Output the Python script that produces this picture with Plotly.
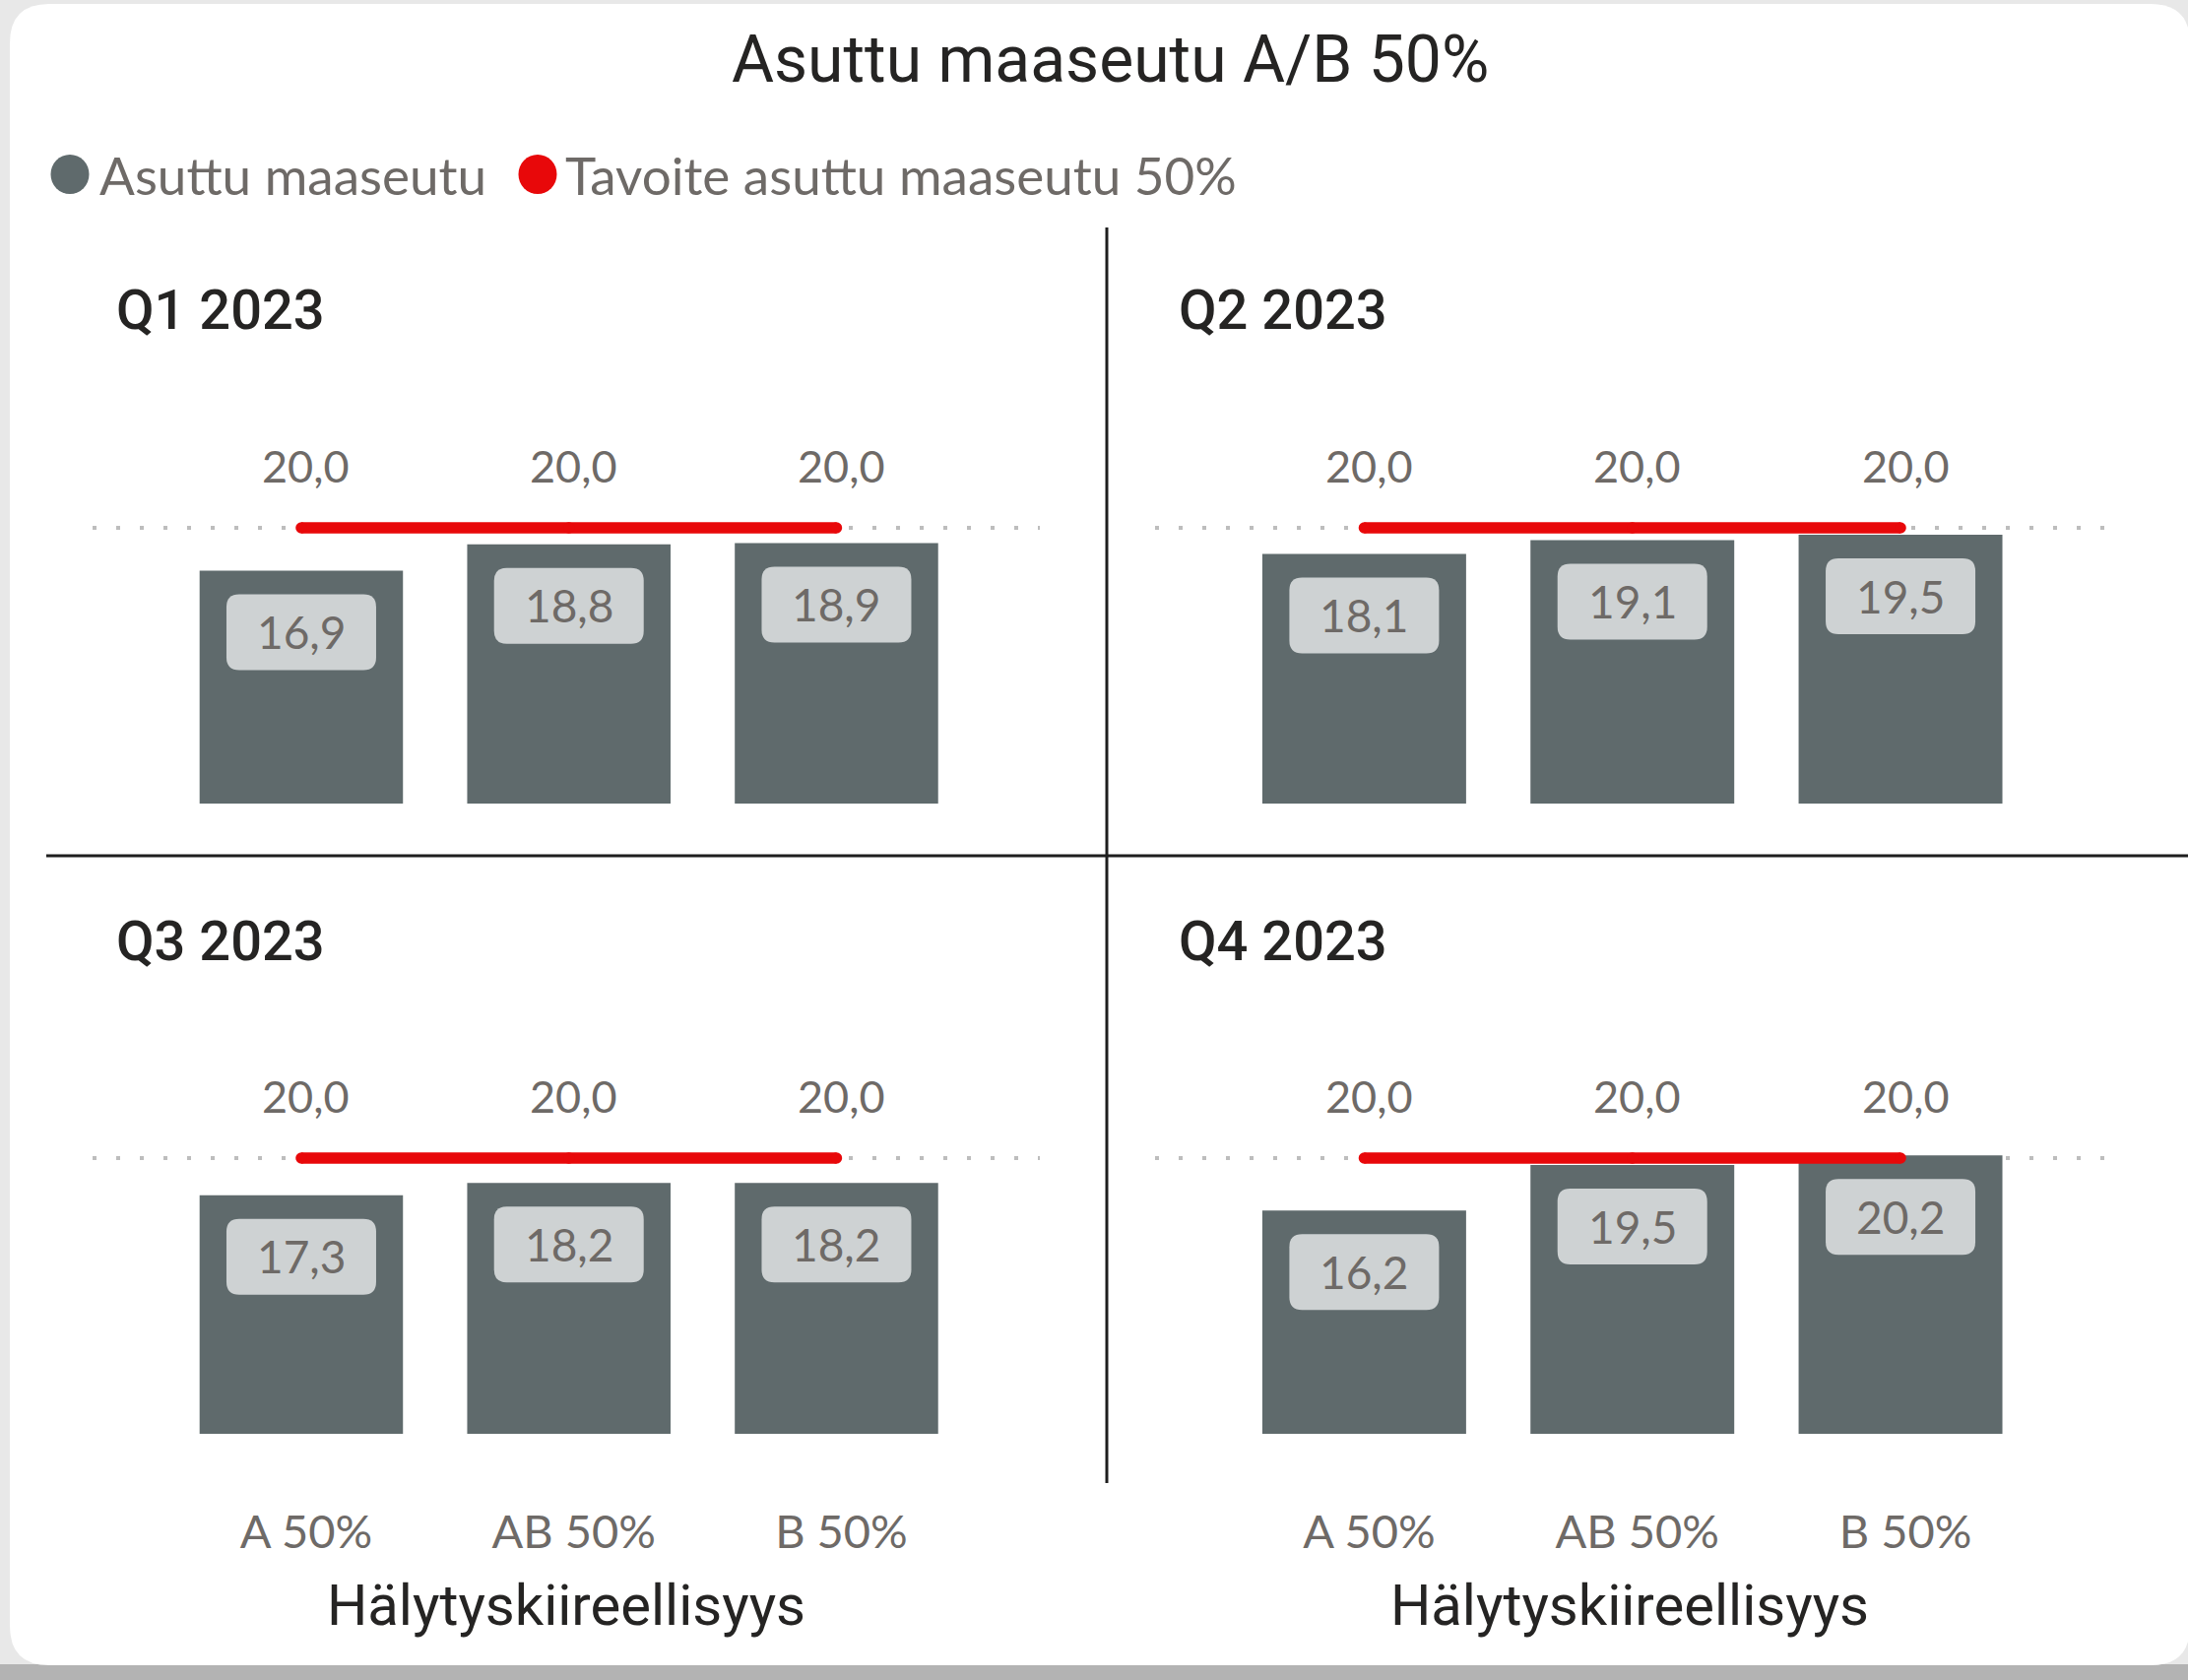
import plotly.graph_objects as go

# ---------------- data ----------------
categories = ["A 50%", "AB 50%", "B 50%"]
quarters = ["Q1 2023", "Q2 2023", "Q3 2023", "Q4 2023"]
q1_values = [16.9, 18.8, 18.9]
q2_values = [18.1, 19.1, 19.5]
q3_values = [17.3, 18.2, 18.2]
q4_values = [16.2, 19.5, 20.2]
target_values = [20.0, 20.0, 20.0]
series_name = "Asuttu maaseutu"
target_name = "Tavoite asuttu maaseutu 50%"
chart_title = "Asuttu maaseutu A/B 50%"
axis_title = "Hälytyskiireellisyys"

quarter_values = [q1_values, q2_values, q3_values, q4_values]

# ---------------- style ----------------
W, H = 2222, 1706
BAR = "#5F6A6C"
RED = "#E8080A"
BOX = "#CED2D3"
GREY_TXT = "#6E6A67"
DARK = "#252423"
SANS = "Lato, 'Open Sans', sans-serif"
DIN = "Roboto, 'DejaVu Sans', sans-serif"

def fx(p):
    return p / W

def fy(p):
    return 1 - p / H

panel_x = [(94, 1056), (1173, 2137), (94, 1056), (1173, 2137)]
panel_y = [(480, 816), (480, 816), (1120, 1456), (1120, 1456)]
title_pos = [(116, 315), (1195, 315), (116, 956), (1195, 956)]

fig = go.Figure()
shapes = []
annotations = []

# background card
card_l, card_r, card_t, card_b, rad = 10, 2224, 4, 1691, 40
shapes.append(dict(type="rect", xref="paper", yref="paper", x0=0, x1=1,
                   y0=fy(H), y1=fy(1690), fillcolor="#B3B3B3", line_width=0, layer="below"))
card_path = (
    f"M {fx(card_l+rad)},{fy(card_t)} L {fx(card_r-rad)},{fy(card_t)} "
    f"Q {fx(card_r)},{fy(card_t)} {fx(card_r)},{fy(card_t+rad)} "
    f"L {fx(card_r)},{fy(card_b-rad)} Q {fx(card_r)},{fy(card_b)} {fx(card_r-rad)},{fy(card_b)} "
    f"L {fx(card_l+rad)},{fy(card_b)} Q {fx(card_l)},{fy(card_b)} {fx(card_l)},{fy(card_b-rad)} "
    f"L {fx(card_l)},{fy(card_t+rad)} Q {fx(card_l)},{fy(card_t)} {fx(card_l+rad)},{fy(card_t)} Z"
)
shapes.append(dict(type="path", xref="paper", yref="paper", path=card_path,
                   fillcolor="white", line_width=0, layer="below"))

# divider lines
shapes.append(dict(type="line", xref="paper", yref="paper", x0=fx(1124), x1=fx(1124),
                   y0=fy(231), y1=fy(1506), line=dict(color="#1E1E1E", width=3)))
shapes.append(dict(type="line", xref="paper", yref="paper", x0=fx(47), x1=1,
                   y0=fy(869), y1=fy(869), line=dict(color="#1E1E1E", width=3)))

# rounded label box (pixel offsets relative to bar top)
bl, br, bt, bb, r = -76, 76, -24, -101, 13
box_path = (
    f"M {bl+r},{bt} L {br-r},{bt} Q {br},{bt} {br},{bt-r} L {br},{bb+r} "
    f"Q {br},{bb} {br-r},{bb} L {bl+r},{bb} Q {bl},{bb} {bl},{bb+r} "
    f"L {bl},{bt-r} Q {bl},{bt} {bl+r},{bt} Z"
)

layout_axes = {}
for i, (q, vals) in enumerate(zip(quarters, quarter_values)):
    n = i + 1
    xa = "x" if n == 1 else f"x{n}"
    ya = "y" if n == 1 else f"y{n}"
    fig.add_trace(go.Bar(x=categories, y=vals, name=series_name, marker_color=BAR,
                         marker_line_width=0, xaxis=xa, yaxis=ya, showlegend=False,
                         hoverinfo="skip"))
    fig.add_trace(go.Scatter(x=categories, y=target_values, name=target_name,
                             mode="lines+markers", line=dict(color=RED, width=11.5),
                             marker=dict(color=RED, size=11.5, line_width=0),
                             xaxis=xa, yaxis=ya, showlegend=False, hoverinfo="skip",
                             cliponaxis=False))
    bottom = n >= 3
    layout_axes[f"xaxis{'' if n == 1 else n}"] = dict(
        domain=[fx(panel_x[i][0]), fx(panel_x[i][1])], anchor=ya,
        type="category", range=[-0.78, 2.76], showgrid=False, zeroline=False,
        showline=False, ticks="", showticklabels=bottom,
        tickfont=dict(family=SANS, size=47, color=GREY_TXT, weight=400),
        ticklabelstandoff=68, ticklabelshift=5, fixedrange=True,
        title=dict(text=axis_title if bottom else "", standoff=28,
                   font=dict(family=DIN, size=58, color=DARK)),
    )
    layout_axes[f"yaxis{'' if n == 1 else n}"] = dict(
        domain=[fy(panel_y[i][1]), fy(panel_y[i][0])], anchor=xa,
        range=[0, 24], tickvals=[0, 20], showticklabels=False, showgrid=True,
        gridcolor="#BDBDBD", gridwidth=4, griddash="4px,20px", zeroline=False,
        showline=False, ticks="", fixedrange=True,
    )
    # quarter title
    annotations.append(dict(xref="paper", yref="paper", x=fx(title_pos[i][0]),
                            y=fy(title_pos[i][1]), xanchor="left", yanchor="middle",
                            text=q, showarrow=False,
                            font=dict(family=DIN, size=56, color=DARK, weight=500)))
    for c, v, t in zip(categories, vals, target_values):
        # target labels
        annotations.append(dict(xref=xa, yref=ya, x=c, y=t, yshift=63, xshift=5,
                                text=f"{t:.1f}".replace(".", ","),
                                showarrow=False, xanchor="center", yanchor="middle",
                                font=dict(family=SANS, size=45, color=GREY_TXT, weight=400)))
        # value label box
        shapes.append(dict(type="path", xref=xa, yref=ya, xsizemode="pixel", ysizemode="pixel",
                           xanchor=c, yanchor=v, path=box_path, fillcolor=BOX, line_width=0,
                           layer="above"))
        annotations.append(dict(xref=xa, yref=ya, x=c, y=v, yshift=-62,
                                text=f"{v:.1f}".replace(".", ","),
                                showarrow=False, xanchor="center", yanchor="middle",
                                font=dict(family=SANS, size=46, color=GREY_TXT, weight=400)))

# title
annotations.append(dict(xref="paper", yref="paper", x=fx(1127), y=fy(60), xanchor="center",
                        yanchor="middle", text=chart_title, showarrow=False,
                        font=dict(family=DIN, size=66, color=DARK)))
# legend
leg_items = [(series_name, BAR, 71, 99), (target_name, RED, 546, 572)]
for name, col, cx, tx in leg_items:
    shapes.append(dict(type="circle", xref="paper", yref="paper",
                       x0=fx(cx - 19.5), x1=fx(cx + 19.5), y0=fy(177 + 20), y1=fy(177 - 20),
                       fillcolor=col, line_width=0))
    annotations.append(dict(xref="paper", yref="paper", x=fx(tx), y=fy(177), xanchor="left",
                            yanchor="middle", text=name, showarrow=False,
                            font=dict(family=SANS, size=53, color=GREY_TXT, weight=400)))

fig.update_layout(
    width=W, height=H, margin=dict(l=0, r=0, t=0, b=0), autosize=False,
    paper_bgcolor="#E8E8E8", plot_bgcolor="rgba(0,0,0,0)",
    bargap=0.24, showlegend=False, shapes=shapes, annotations=annotations,
    **layout_axes,
)

fig.write_html("out.html", config={"displayModeBar": False},
               post_script="document.body.style.margin='0px';document.body.style.overflow='hidden';")
